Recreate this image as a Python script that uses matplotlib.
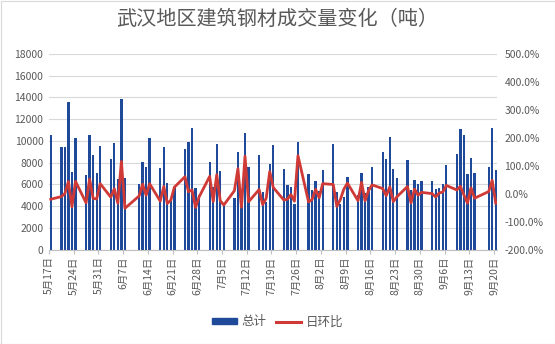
import numpy as np
import pandas as pd
import matplotlib
matplotlib.use("Agg")
import matplotlib.pyplot as plt
from matplotlib.patches import Patch
from matplotlib.lines import Line2D
from matplotlib.ticker import FuncFormatter

plt.rcParams['font.family'] = ['Noto Sans CJK SC', 'DejaVu Sans']

title = "武汉地区建筑钢材成交量变化（吨）"
start = "05-17"

# trading days (month-day)
dates = ["05-17",
         "05-20", "05-21", "05-22", "05-23", "05-24",
         "05-27", "05-28", "05-29", "05-30", "05-31",
         "06-03", "06-04", "06-05", "06-06", "06-07",
         "06-11", "06-12", "06-13", "06-14",
         "06-17", "06-18", "06-19", "06-20", "06-21",
         "06-24", "06-25", "06-26", "06-27", "06-28",
         "07-01", "07-02", "07-03", "07-04", "07-05",
         "07-08", "07-09", "07-10", "07-11", "07-12",
         "07-15", "07-16", "07-17", "07-18", "07-19",
         "07-22", "07-23", "07-24", "07-25", "07-26",
         "07-29", "07-30", "07-31", "08-01", "08-02",
         "08-05", "08-06", "08-07", "08-08", "08-09",
         "08-12", "08-13", "08-14", "08-15", "08-16",
         "08-19", "08-20", "08-21", "08-22", "08-23",
         "08-26", "08-27", "08-28", "08-29", "08-30",
         "09-02", "09-03", "09-04", "09-05", "09-06",
         "09-09", "09-10", "09-11", "09-12", "09-13", "09-14",
         "09-18", "09-19", "09-20"]

# 总计 (tons)
volume = [10500,
          9400, 9450, 13550, 7150, 10300,
          6900, 10500, 8700, 7050, 9550,
          8350, 9800, 6450, 13900, 6600,
          6030, 8080, 7600, 10280,
          7520, 9450, 6120, 4700, 5780,
          9280, 9930, 11220, 5670, 5000,
          8090, 5800, 9740, 7250, 4300,
          4750, 9000, 4600, 10760, 7620,
          8730, 5290, 4410, 7900, 9640,
          7430, 5950, 5750, 4200, 9910,
          6970, 5490, 6340, 5400, 7340,
          9740, 5300, 4180, 4860, 6690,
          5000, 7030, 5200, 5800, 7620,
          9000, 8350, 10380, 7430, 6580,
          8250, 5500, 6400, 6060, 6340,
          6340, 5570, 5700, 6030, 7800,
          8820, 11130, 10580, 6970, 8430, 7060,
          7580, 11190, 7340]

# 日环比 (%)
change = [-20.0,
          -10.5, 0.5, 43.4, -47.2, 44.1,
          -33.0, 52.2, -17.1, -19.0, 35.5,
          -12.6, 17.4, -34.2, 115.5, -52.5,
          -8.6, 34.0, -5.9, 35.3,
          -26.8, 25.7, -35.2, -23.2, 23.0,
          60.6, 7.0, 13.0, -49.5, -11.8,
          61.8, -28.3, 67.9, -25.6, -40.7,
          10.5, 89.5, -48.9, 133.9, -29.2,
          14.6, -39.4, -16.6, 79.1, 22.0,
          -22.9, -19.9, -3.4, -27.0, 136.0,
          -29.7, -21.2, 15.5, -14.8, 35.9,
          32.7, -45.6, -21.1, 16.3, 37.7,
          -25.3, 40.6, -26.0, 11.5, 31.4,
          18.1, -7.2, 24.3, -28.4, -11.4,
          25.4, -33.3, 16.4, -5.3, 4.6,
          0.0, -12.1, 2.3, 5.8, 29.4,
          13.1, 26.2, -4.9, -34.1, 20.9, -16.3,
          7.4, 47.6, -34.4]

tick_labels = ["5月17日", "5月24日", "5月31日", "6月7日", "6月14日", "6月21日",
               "6月28日", "7月5日", "7月12日", "7月19日", "7月26日", "8月2日",
               "8月9日", "8月16日", "8月23日", "8月30日", "9月6日", "9月13日",
               "9月20日"]

base = pd.Timestamp("2019-" + start)
days = np.array([(pd.Timestamp("2019-" + d) - base).days for d in dates])
n_days = days.max() + 1

blue = "#1F4A9A"
red = "#D03A36"
grey = "#595959"

fig = plt.figure(figsize=(5.55, 3.44), dpi=100)
ax = fig.add_axes([49 / 555, 1 - 249.5 / 344, 448.5 / 555, 195.5 / 344])

ax.bar(days, volume, width=0.65, color=blue, zorder=2)
ax.set_ylim(0, 18000)
ax.set_yticks(np.arange(0, 18001, 2000))
ax.set_xlim(-0.5, n_days - 0.5)
ax.grid(axis="y", color="#D9D9D9", linewidth=0.8, zorder=0)
ax.set_axisbelow(True)

tick_pos = np.arange(0, n_days, 7) - 0.5
ax.set_xticks(tick_pos)
ax.set_xticklabels(tick_labels, rotation=90, fontsize=7.5, color=grey)
ax.tick_params(axis="x", length=3, color="#BFBFBF", pad=2)
ax.tick_params(axis="y", length=0, labelsize=7.5, labelcolor=grey, pad=4)

for s in ["top", "right", "left"]:
    ax.spines[s].set_visible(False)
ax.spines["bottom"].set_color("#BFBFBF")

ax2 = ax.twinx()
ax2.plot(days, change, color=red, linewidth=2.0, zorder=3)
ax2.set_ylim(-200, 500)
ax2.set_yticks(np.arange(-200, 501, 100))
ax2.yaxis.set_major_formatter(FuncFormatter(lambda v, p: f"{v:.1f}%"))
ax2.tick_params(axis="y", length=0, labelsize=7.5, labelcolor=grey, pad=5)
for s in ["top", "right", "left", "bottom"]:
    ax2.spines[s].set_visible(False)

fig.text(0.5, 1 - 19 / 344, title, ha="center", va="center", fontsize=14.5, color=grey)

handles = [Patch(facecolor=blue, edgecolor=blue),
           Line2D([0], [0], color=red, linewidth=2.2)]
fig.legend(handles, ["总计", "日环比"], loc="center", bbox_to_anchor=(0.5, 1 - 322 / 344),
           ncol=2, frameon=False, fontsize=9, labelcolor=grey,
           handlelength=2.0, handleheight=0.45, handletextpad=0.4, columnspacing=0.7)

fig.patches.append(plt.Rectangle((0.5 / 555, 0.5 / 344), 1 - 1 / 555, 1 - 1 / 344,
                                 transform=fig.transFigure, fill=False,
                                 edgecolor="#D9D9D9", linewidth=0.8))

fig.savefig("out.png", dpi=100, facecolor="white")
